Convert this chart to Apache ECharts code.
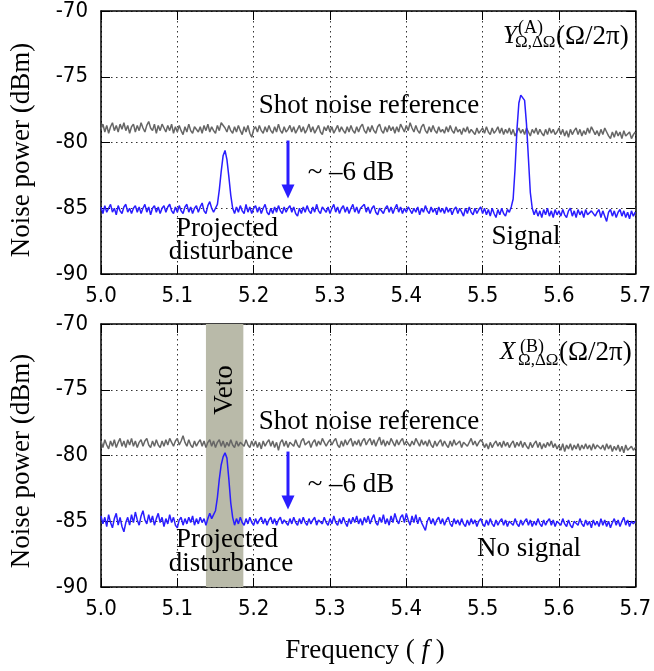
<!DOCTYPE html>
<html>
<head>
<meta charset="utf-8">
<script src="https://cdn.jsdelivr.net/npm/echarts@6/dist/echarts.min.js"></script>
<style>
html,body{margin:0;padding:0;background:#fff;}
#chart{width:654px;height:671px;}
</style>
</head>
<body>
<div id="chart"></div>
<script>
// Frequency grid of the traces (281 samples from 5.0 to 5.7)
const freqStart = 5.0;
const freqStep = 0.0025;

// Axis ticks
const xTickValues = [5.0, 5.1, 5.2, 5.3, 5.4, 5.5, 5.6, 5.7];
const yTickValues = [-90, -85, -80, -75, -70];

// Panel A (top): shot noise reference
const topShot = [
-79.0,-78.6,-79.2,-78.7,-79.3,-78.8,-78.5,-79.1,-78.7,-79.2,-78.6,-79.0,-78.5,-79.1,-78.7,-79.3,-78.8,-78.6,-79.2,-78.7,
-79.1,-78.5,-78.9,-79.2,-78.7,-78.4,-78.9,-79.1,-78.6,-79.3,-78.7,-79.1,-78.6,-78.9,-79.2,-78.7,-79.1,-78.6,-79.3,-78.8,
-79.2,-78.7,-79.1,-79.4,-78.8,-79.2,-78.6,-79.1,-79.3,-78.8,-78.7,-79.2,-78.8,-79.3,-78.7,-79.1,-78.6,-79.2,-78.8,-79.1,
-79.3,-78.7,-79.1,-78.5,-78.4,-78.9,-79.2,-78.7,-79.1,-79.3,-78.8,-79.2,-78.7,-79.1,-79.4,-78.8,-79.2,-78.7,-79.3,-79.6,
-79.0,-78.8,-79.2,-78.7,-79.1,-79.3,-78.8,-79.2,-78.7,-79.1,-79.3,-78.8,-79.2,-78.6,-79.1,-79.3,-78.8,-79.2,-79.0,-78.7,
-79.2,-78.8,-79.3,-79.0,-78.7,-79.2,-78.8,-79.3,-79.0,-78.6,-79.2,-78.8,-79.3,-79.0,-78.7,-79.2,-79.4,-78.8,-79.1,-78.7,
-79.2,-78.8,-79.3,-79.0,-78.7,-79.2,-78.8,-79.1,-79.3,-78.8,-79.2,-78.7,-79.1,-79.3,-78.8,-79.2,-78.8,-78.6,-79.1,-79.3,
-78.8,-79.2,-78.7,-79.1,-79.3,-78.8,-78.6,-79.1,-79.3,-78.8,-79.2,-78.7,-79.1,-78.8,-79.3,-78.8,-79.2,-78.6,-78.9,-79.2,
-78.7,-79.1,-78.5,-78.9,-79.2,-78.7,-79.1,-79.3,-78.8,-78.6,-79.1,-79.3,-78.8,-79.2,-78.7,-79.1,-79.3,-78.8,-79.2,-79.0,
-79.3,-78.8,-79.2,-78.7,-79.1,-79.3,-78.8,-79.2,-79.0,-79.4,-78.9,-79.2,-78.8,-79.3,-79.0,-79.2,-79.4,-78.9,-79.3,-79.1,
-78.9,-79.3,-78.8,-79.2,-79.4,-78.9,-79.3,-79.1,-78.8,-79.3,-78.9,-79.4,-79.0,-79.3,-78.9,-79.4,-79.0,-79.5,-79.2,-78.9,
-79.3,-79.0,-79.4,-78.9,-79.2,-79.5,-79.0,-79.3,-78.9,-79.4,-79.0,-79.3,-79.5,-79.0,-79.4,-78.9,-79.3,-79.0,-79.4,-79.2,
-78.9,-79.4,-79.0,-79.5,-79.1,-79.6,-79.0,-79.4,-79.1,-78.9,-79.4,-79.0,-79.5,-79.1,-79.4,-78.9,-79.3,-78.8,-79.1,-79.4,
-79.1,-79.5,-79.0,-79.4,-78.9,-79.2,-79.5,-79.7,-79.2,-79.6,-79.1,-79.5,-79.2,-79.7,-79.1,-79.5,-79.6,-79.2,-79.7,-79.4,
-79.2
];
// Panel A (top): Y quadrature with projected disturbance and signal
const topSignal = [
-84.9,-85.4,-84.8,-85.3,-85.0,-84.7,-85.3,-85.0,-85.5,-84.8,-85.2,-85.4,-84.9,-84.7,-85.3,-85.0,-85.4,-85.0,-84.8,-85.3,
-84.9,-85.4,-85.0,-84.7,-85.3,-84.9,-85.5,-85.0,-84.8,-85.3,-84.9,-85.4,-85.0,-84.8,-85.3,-84.9,-84.7,-85.2,-85.4,-84.9,
-85.3,-84.8,-85.2,-85.4,-84.9,-84.7,-85.3,-84.9,-85.4,-85.0,-84.8,-85.3,-84.9,-84.6,-85.2,-85.4,-84.8,-84.5,-85.0,-85.3,
-85.0,-84.7,-83.6,-82.2,-81.0,-80.6,-81.3,-82.6,-84.0,-85.0,-85.4,-84.9,-85.3,-84.8,-85.2,-85.4,-84.7,-85.3,-84.9,-85.4,
-85.0,-84.8,-85.3,-84.9,-85.4,-85.0,-84.7,-85.3,-85.5,-85.0,-85.4,-84.9,-85.3,-84.8,-85.2,-85.4,-84.9,-85.3,-85.0,-84.8,
-85.3,-84.9,-85.4,-85.6,-85.0,-85.4,-84.9,-85.3,-84.8,-85.2,-85.4,-84.9,-85.3,-84.7,-85.2,-85.4,-84.9,-84.8,-85.3,-84.9,
-85.4,-85.0,-84.7,-85.3,-84.9,-85.4,-85.0,-84.8,-85.3,-84.9,-85.4,-85.0,-84.7,-85.3,-84.9,-85.4,-85.0,-84.9,-84.7,-85.3,
-84.9,-85.4,-85.0,-84.8,-85.3,-85.5,-85.0,-84.9,-85.4,-85.0,-84.8,-85.3,-84.9,-85.4,-85.0,-84.7,-85.3,-84.9,-85.4,-85.0,
-85.3,-84.9,-84.8,-85.4,-85.0,-85.3,-84.9,-85.5,-85.0,-85.3,-84.8,-85.2,-85.4,-84.9,-85.3,-85.0,-85.5,-84.9,-85.3,-85.0,
-85.4,-84.9,-85.3,-85.0,-85.5,-85.1,-84.9,-85.4,-85.0,-85.3,-85.6,-85.0,-85.4,-84.9,-85.3,-85.5,-85.0,-85.4,-85.1,-84.9,
-85.4,-85.0,-85.5,-85.1,-85.6,-85.0,-85.4,-85.7,-85.1,-85.5,-85.0,-85.4,-85.6,-85.1,-85.3,-84.9,-84.3,-82.0,-79.0,-77.0,
-76.4,-76.3,-76.8,-78.6,-81.2,-83.8,-85.0,-85.5,-85.1,-85.6,-85.2,-85.7,-85.1,-85.5,-85.0,-85.6,-85.2,-85.7,-85.1,-85.5,
-85.2,-85.6,-85.1,-85.5,-85.7,-85.2,-85.0,-85.6,-85.2,-85.7,-85.1,-85.5,-85.2,-85.7,-85.1,-85.5,-85.6,-85.2,-85.1,-85.6,
-85.3,-85.1,-85.7,-85.2,-85.6,-86.0,-85.3,-85.1,-85.6,-85.2,-85.7,-85.3,-85.1,-85.6,-85.2,-85.7,-85.3,-85.8,-85.2,-85.6,
-85.3
];

// Panel B (bottom): shot noise reference
const botShot = [
-78.9,-79.4,-78.8,-79.2,-79.5,-78.9,-79.3,-78.8,-79.4,-79.0,-78.7,-79.3,-78.9,-79.4,-78.8,-79.2,-78.7,-79.3,-78.9,-79.4,
-79.0,-78.8,-79.3,-78.9,-78.7,-79.2,-79.4,-78.9,-79.3,-78.8,-79.2,-79.4,-78.9,-79.3,-78.8,-79.2,-78.7,-79.0,-79.3,-78.9,
-78.7,-79.2,-78.9,-78.5,-79.0,-79.3,-78.8,-79.2,-79.4,-78.9,-79.3,-79.0,-78.8,-79.3,-78.9,-79.4,-79.0,-78.8,-79.3,-78.9,
-79.4,-79.0,-78.8,-79.3,-78.9,-79.4,-79.0,-79.3,-78.8,-79.2,-79.4,-78.9,-79.3,-79.0,-78.9,-79.3,-78.8,-79.2,-79.4,-78.9,
-79.3,-78.9,-79.4,-79.0,-79.5,-78.9,-79.3,-79.0,-78.8,-79.3,-78.9,-79.4,-79.0,-79.6,-79.0,-78.8,-79.3,-78.9,-79.4,-79.0,
-78.9,-79.3,-78.8,-79.2,-79.4,-78.9,-78.7,-79.2,-79.3,-78.9,-79.4,-79.0,-78.8,-79.3,-78.9,-79.2,-78.7,-79.0,-79.3,-79.0,
-78.8,-79.2,-78.9,-78.7,-79.2,-79.4,-78.9,-79.3,-78.8,-79.2,-78.9,-78.7,-79.3,-78.9,-79.2,-78.8,-79.3,-78.9,-78.7,-79.2,
-78.9,-78.7,-79.2,-78.8,-79.3,-78.9,-78.6,-79.2,-78.8,-79.3,-78.9,-79.2,-78.7,-79.0,-79.3,-78.8,-79.2,-78.9,-78.7,-79.2,
-78.9,-78.8,-79.3,-78.9,-79.2,-78.7,-79.0,-79.3,-78.8,-79.2,-78.9,-79.3,-78.8,-79.2,-79.4,-78.9,-79.3,-79.0,-78.8,-79.3,
-78.9,-79.2,-79.4,-78.9,-79.3,-78.8,-79.2,-79.3,-78.9,-79.4,-79.0,-78.9,-79.3,-79.0,-78.7,-79.2,-78.9,-79.3,-79.0,-78.8,
-79.0,-79.4,-79.1,-79.5,-79.0,-79.4,-79.1,-78.9,-79.3,-79.0,-79.4,-78.9,-79.3,-79.0,-79.4,-79.1,-78.9,-79.4,-79.0,-79.3,
-78.9,-79.4,-79.0,-79.3,-79.5,-79.0,-79.4,-79.1,-78.9,-79.4,-79.0,-79.5,-79.1,-79.4,-79.0,-79.3,-78.9,-79.4,-79.1,-79.5,
-79.2,-79.6,-79.1,-79.7,-79.2,-79.5,-79.1,-79.6,-79.2,-79.5,-79.1,-79.6,-79.2,-79.5,-79.1,-79.5,-79.2,-79.6,-79.1,-79.5,
-79.2,-79.1,-79.5,-79.2,-79.6,-79.1,-79.5,-79.2,-79.7,-79.3,-79.6,-79.2,-79.7,-79.3,-79.8,-79.2,-79.6,-79.7,-79.3,-79.6,
-79.4
];
// Panel B (bottom): X quadrature with projected disturbance, no signal
const botSignal = [
-84.6,-85.2,-84.7,-85.4,-84.5,-85.1,-85.5,-84.8,-84.4,-85.3,-84.7,-85.4,-85.8,-85.1,-84.7,-85.3,-84.5,-85.1,-84.3,-84.9,
-85.3,-84.6,-84.2,-84.9,-85.2,-84.5,-85.1,-84.6,-85.3,-84.8,-84.4,-85.1,-84.7,-85.4,-84.8,-85.2,-84.5,-85.1,-84.7,-85.3,
-85.5,-84.9,-84.7,-85.3,-84.8,-85.2,-84.7,-85.1,-84.6,-85.3,-84.8,-85.2,-84.7,-85.1,-84.8,-85.3,-84.8,-84.4,-84.8,-84.5,
-84.2,-83.2,-81.8,-80.7,-80.1,-79.8,-80.2,-81.8,-83.6,-84.7,-85.3,-84.8,-85.2,-84.7,-85.1,-85.3,-84.8,-85.2,-84.7,-85.1,
-85.3,-84.8,-85.2,-84.9,-84.7,-85.2,-84.8,-85.3,-84.9,-84.7,-85.2,-84.8,-85.3,-84.9,-84.7,-85.2,-84.9,-84.8,-85.3,-84.8,
-85.2,-84.7,-85.1,-85.3,-84.8,-85.2,-84.7,-85.1,-85.3,-84.8,-85.2,-84.9,-84.7,-85.3,-84.9,-84.8,-85.2,-84.7,-85.1,-85.3,
-84.8,-85.2,-84.6,-85.1,-85.3,-84.8,-85.2,-84.7,-85.1,-85.4,-84.8,-85.2,-84.7,-85.1,-84.6,-85.2,-84.8,-85.3,-84.7,-85.1,
-84.6,-85.2,-84.8,-84.5,-85.1,-85.3,-84.7,-85.1,-84.5,-85.2,-84.8,-85.3,-84.6,-85.1,-84.4,-84.9,-85.2,-84.7,-84.5,-85.1,
-84.4,-84.9,-85.3,-84.6,-85.1,-84.5,-85.2,-84.7,-85.1,-85.4,-85.7,-85.0,-84.7,-85.2,-84.8,-85.3,-84.9,-84.7,-85.2,-84.8,
-85.3,-84.9,-84.7,-85.2,-85.4,-84.8,-85.2,-84.9,-85.3,-84.8,-85.2,-85.4,-84.9,-85.3,-84.8,-85.2,-84.9,-85.4,-85.0,-84.8,
-85.2,-85.4,-84.9,-85.3,-84.8,-85.2,-85.4,-84.9,-85.3,-85.0,-84.8,-85.3,-84.9,-85.4,-85.0,-84.9,-85.3,-84.8,-85.2,-85.4,
-84.9,-85.3,-85.0,-84.8,-85.3,-84.9,-85.4,-85.0,-85.3,-84.8,-85.2,-85.4,-84.9,-85.3,-85.0,-84.8,-85.3,-84.9,-85.4,-85.0,
-84.9,-85.3,-84.8,-85.2,-85.4,-84.9,-85.3,-85.5,-85.0,-84.9,-85.3,-84.8,-85.2,-85.4,-84.9,-85.3,-85.0,-85.5,-84.9,-85.3,
-85.0,-85.4,-84.8,-85.3,-84.9,-85.4,-85.0,-85.5,-85.1,-84.8,-85.3,-84.9,-85.4,-85.0,-84.7,-85.3,-84.9,-85.4,-85.0,-85.2,
-85.0
];

// Veto band and "~ -6 dB" arrows (data coordinates: x, start level, tip level)
const vetoBand = [5.1375, 5.1865];
const arrowsTop = [[5.245, -79.85, -84.25]];
const arrowsBot = [[5.245, -79.7, -84.1]];

function pairs(vals) {
  return vals.map((v, i) => [+(freqStart + i * freqStep).toFixed(4), v]);
}

const SERIF = "'Liberation Serif','Times New Roman',serif";
const SANS = "'DejaVu Sans Condensed','DejaVu Sans',sans-serif";
const GRAY = '#666666';
const BLUE = '#2a1dff';

const gridDefs = [
  { left: 101, top: 10, width: 541, height: 264 },
  { left: 101, top: 324, width: 541, height: 263 }
];

function xAxes(gi) {
  const base = {
    type: 'value', gridIndex: gi, min: 5.0, max: 5.7, interval: 0.1,
    axisLine: { show: true, onZero: false, lineStyle: { color: '#000', width: 1.5 } },
    axisTick: { show: true, inside: true, length: 9, lineStyle: { color: '#000', width: 1 } },
    splitLine: { show: false }
  };
  return [
    Object.assign({}, base, {
      position: 'bottom',
      axisLabel: { show: true, margin: 11, color: '#000', fontSize: 22, fontFamily: SANS,
        formatter: v => xTickValues.some(t => Math.abs(t - v) < 1e-6) ? v.toFixed(1) : '' },
      splitLine: { show: true, lineStyle: { color: '#333', width: 1, type: [1.5, 3.5] } }
    }),
    Object.assign({}, base, { position: 'top', axisLabel: { show: false } })
  ];
}
function yAxes(gi) {
  const base = {
    type: 'value', gridIndex: gi, min: -90, max: -70, interval: 5,
    axisLine: { show: true, onZero: false, lineStyle: { color: '#000', width: 1.5 } },
    axisTick: { show: true, inside: true, length: 9, lineStyle: { color: '#000', width: 1 } },
    splitLine: { show: false }
  };
  return [
    Object.assign({}, base, {
      position: 'left',
      axisLabel: { show: true, margin: 13, color: '#000', fontSize: 22, fontFamily: SANS,
        formatter: v => yTickValues.indexOf(v) >= 0 ? String(v) : '' },
      splitLine: { show: true, lineStyle: { color: '#333', width: 1, type: [1.5, 3.5] } }
    }),
    Object.assign({}, base, { position: 'right', axisLabel: { show: false } })
  ];
}

// arrow drawn via the axes' own scales
function arrowSeries(gi, data) {
  return {
    type: 'custom', xAxisIndex: gi * 2, yAxisIndex: gi * 2, z: 5, silent: true, clip: false,
    encode: { x: 0, y: [1, 2] },
    data: data,
    renderItem: function (params, api) {
      const a = api.coord([api.value(0), api.value(1)]);
      const b = api.coord([api.value(0), api.value(2)]);
      const headLen = 14, headHalf = 6.5;
      return {
        type: 'group',
        children: [
          { type: 'line', shape: { x1: a[0], y1: a[1], x2: b[0], y2: b[1] - headLen + 2 },
            style: { stroke: BLUE, lineWidth: 3 } },
          { type: 'polygon', shape: { points: [[b[0], b[1]], [b[0] - headHalf, b[1] - headLen], [b[0] + headHalf, b[1] - headLen]] },
            style: { fill: BLUE } }
        ]
      };
    }
  };
}

const FS = 27;
function txt(x, y, s, opts) {
  return {
    type: 'text', x: x, y: y, silent: true, z: 100,
    rotation: (opts && opts.rotation) || 0,
    style: Object.assign({
      text: s, fill: '#000', font: FS + 'px ' + SERIF,
      textAlign: 'center', textVerticalAlign: 'middle'
    }, (opts && opts.style) || {})
  };
}

const graphics = [
  // Y-axis titles
  txt(22, 150, 'Noise power (dBm)', { rotation: Math.PI / 2 }),
  txt(22, 461, 'Noise power (dBm)', { rotation: Math.PI / 2 }),
  // top panel
  txt(369, 106, 'Shot noise reference'),
  txt(351, 173, '~ \u20136 dB'),
  txt(227, 229, 'Projected'),
  txt(231, 252, 'disturbance'),
  txt(526, 237, 'Signal'),
  txt(503, 36, 'Y', { style: { textAlign: 'left', font: 'italic 25px ' + SERIF } }),
  txt(518, 28, '(A)', { style: { textAlign: 'left', font: '18px ' + SERIF } }),
  txt(515, 43, '\u03A9,\u0394\u03A9', { style: { textAlign: 'left', font: '17px ' + SERIF } }),
  txt(556, 37, '(\u03A9/2\u03C0)', { style: { textAlign: 'left', font: '27px ' + SERIF } }),
  // bottom panel
  txt(369, 422, 'Shot noise reference'),
  txt(351, 485, '~ \u20136 dB'),
  txt(227, 540, 'Projected'),
  txt(231, 564, 'disturbance'),
  txt(529, 549, 'No signal'),
  txt(225, 390, 'Veto', { rotation: Math.PI / 2 }),
  txt(500, 352, 'X', { style: { textAlign: 'left', font: 'italic 25px ' + SERIF } }),
  txt(520, 347, '(B)', { style: { textAlign: 'left', font: '18px ' + SERIF } }),
  txt(518, 361, '\u03A9,\u0394\u03A9', { style: { textAlign: 'left', font: '17px ' + SERIF } }),
  txt(559, 353, '(\u03A9/2\u03C0)', { style: { textAlign: 'left', font: '27px ' + SERIF } }),
  // x-axis title
  {
    type: 'text', x: 365, y: 651, silent: true, z: 100,
    style: {
      text: '{n|Frequency ( }{i|f}{n| )}',
      textAlign: 'center', textVerticalAlign: 'middle',
      rich: {
        n: { fontFamily: SERIF, fontSize: FS, fill: '#000' },
        i: { fontFamily: SERIF, fontSize: FS, fontStyle: 'italic', fill: '#000' }
      }
    }
  }
];

const chart = echarts.init(document.getElementById('chart'), null, { renderer: 'canvas' });
chart.setOption({
  animation: false,
  backgroundColor: '#fff',
  grid: gridDefs.map(g => Object.assign({ show: false, containLabel: false }, g)),
  xAxis: xAxes(0).concat(xAxes(1)),
  yAxis: yAxes(0).concat(yAxes(1)),
  series: [
    { type: 'custom', name: 'vetoBand', xAxisIndex: 2, yAxisIndex: 2, z: 1, silent: true, clip: false,
      encode: { x: [0, 1] },
      data: [[vetoBand[0], vetoBand[1]]],
      renderItem: function (params, api) {
        const p0 = api.coord([api.value(0), -70]);
        const p1 = api.coord([api.value(1), -90]);
        return { type: 'rect', shape: { x: p0[0], y: p0[1], width: p1[0] - p0[0], height: p1[1] - p0[1] },
          style: { fill: '#b9baa9' } };
      } },
    { type: 'line', name: 'topShot', xAxisIndex: 0, yAxisIndex: 0, data: pairs(topShot),
      showSymbol: false, symbol: 'none', lineStyle: { color: GRAY, width: 1.5 }, z: 3 },
    { type: 'line', name: 'topSignal', xAxisIndex: 0, yAxisIndex: 0, data: pairs(topSignal),
      showSymbol: false, symbol: 'none', lineStyle: { color: BLUE, width: 1.5 }, z: 4 },
    { type: 'line', name: 'botShot', xAxisIndex: 2, yAxisIndex: 2, data: pairs(botShot),
      showSymbol: false, symbol: 'none', lineStyle: { color: GRAY, width: 1.5 }, z: 3 },
    { type: 'line', name: 'botSignal', xAxisIndex: 2, yAxisIndex: 2, data: pairs(botSignal),
      showSymbol: false, symbol: 'none', lineStyle: { color: BLUE, width: 1.5 }, z: 4 },
    arrowSeries(0, arrowsTop),
    arrowSeries(1, arrowsBot)
  ],
  graphic: graphics
});
</script>
</body>
</html>
